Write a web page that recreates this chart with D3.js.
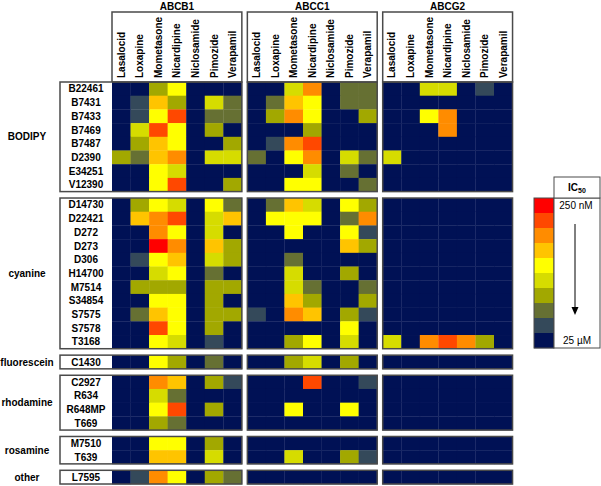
<!DOCTYPE html>
<html><head><meta charset="utf-8">
<script src="https://cdn.jsdelivr.net/npm/d3@7"></script>
<style>
body{margin:0;background:#fff;}
text{font-family:"Liberation Sans",Arial,sans-serif;}
</style></head>
<body><svg id="c" width="601" height="486"></svg>
<script>
// ---- data ----
const transporters = ["ABCB1","ABCC1","ABCG2"];
const drugs = ["Lasalocid","Loxapine","Mometasone","Nicardipine","Niclosamide","Pimozide","Verapamil"];
const groupNames = ["BODIPY","cyanine","fluorescein","rhodamine","rosamine","other"];
const dyesBODIPY = ["B22461","B7431","B7433","B7469","B7487","D2390","E34251","V12390"];
const dyesCyanine = ["D14730","D22421","D272","D273","D306","H14700","M7514","S34854","S7575","S7578","T3168"];
const dyesFluorescein = ["C1430"];
const dyesRhodamine = ["C2927","R634","R648MP","T669"];
const dyesRosamine = ["M7510","T639"];
const dyesOther = ["L7595"];
// IC50 level: 1 = 250 nM ... 10 = 25 µM
const legendTop = "250 nM";
const legendBottom = "25 µM";
const levelColors = ["#FF0000","#FF4800","#FF8C00","#FFC400","#FFFF00","#D6DC00","#A2A800","#667033","#34495A","#001155"];
// rows in dye order (all groups), columns in drug order
const levelsABCB1 = [
 [10,10,7,5,10,10,10],[10,9,4,7,10,6,8],[10,9,5,2,10,8,8],[10,6,2,5,10,7,10],
 [10,7,4,5,10,10,7],[7,8,4,3,10,6,6],[10,10,5,6,10,10,10],[10,10,5,2,10,10,7],
 [10,7,5,6,10,5,8],[10,4,3,2,10,6,4],[10,10,3,5,10,6,10],[10,10,1,3,10,4,7],
 [10,9,5,4,10,6,7],[10,10,6,5,10,8,10],[10,7,7,7,10,7,7],[10,10,5,5,10,7,10],
 [10,8,4,5,10,7,7],[10,10,2,5,10,7,10],[10,10,5,6,10,9,10],
 [10,10,5,7,10,8,10],
 [10,10,3,4,10,7,9],[10,10,6,8,10,10,10],[10,10,5,2,10,7,10],[10,10,7,8,10,10,10],
 [10,10,5,5,10,7,10],[10,10,4,4,10,6,10],
 [10,9,3,5,10,7,8]
];
const levelsABCC1 = [
 [10,10,6,3,10,8,8],[10,8,4,5,10,8,8],[10,7,3,5,10,10,7],[10,10,10,7,10,10,10],
 [10,9,3,2,10,10,10],[8,10,5,3,10,6,8],[10,10,10,6,10,8,10],[10,10,5,5,10,10,8],
 [10,8,4,6,10,5,7],[10,5,5,5,10,8,3],[10,10,5,10,10,5,9],[10,10,10,10,10,4,7],
 [10,10,8,10,10,10,10],[10,10,6,10,10,7,10],[10,10,6,8,10,10,8],[10,10,4,7,10,10,7],
 [9,10,3,4,10,7,9],[10,10,10,10,10,5,10],[10,10,7,5,10,6,10],
 [10,10,7,6,10,7,10],
 [10,10,10,2,10,10,9],[10,10,10,10,10,10,10],[10,10,5,10,10,5,10],[10,10,10,10,10,10,10],
 [10,10,10,10,10,10,10],[10,10,6,10,10,7,9],
 [10,10,10,10,10,10,10]
];
const levelsABCG2 = [
 [10,10,6,6,10,9,10],[10,10,10,10,10,10,10],[10,10,5,3,10,10,10],[10,10,10,3,10,10,10],
 [10,10,10,10,10,10,10],[6,10,10,10,10,10,10],[10,10,10,10,10,10,10],[10,10,10,10,10,10,10],
 [10,10,10,10,10,10,10],[10,10,10,10,10,10,10],[10,10,10,10,10,10,10],[10,10,10,10,10,10,10],
 [10,10,10,10,10,10,10],[10,10,10,10,10,10,10],[10,10,10,10,10,10,10],[10,10,10,10,10,10,10],
 [10,10,10,10,10,10,10],[10,10,10,10,10,10,10],[6,10,3,2,3,7,10],
 [10,10,10,10,10,10,10],
 [10,10,10,10,10,10,10],[10,10,10,10,10,10,10],[10,10,10,10,10,10,10],[10,10,10,10,10,10,10],
 [10,10,10,10,10,10,10],[10,10,10,10,10,10,10],
 [10,10,10,10,10,10,10]
];

// ---- build ----
(function(){
const groupDyes = [dyesBODIPY,dyesCyanine,dyesFluorescein,dyesRhodamine,dyesRosamine,dyesOther];
const levelsBy = {ABCB1:levelsABCB1, ABCC1:levelsABCC1, ABCG2:levelsABCG2};
const rows = [];
groupDyes.forEach((list,g)=>list.forEach(d=>rows.push({dye:d,group:g})));

const svg = d3.select("#c");
const rowH = 13.7, groupGap = 6.42, topY = 82;
const yRow = i => topY + i*rowH + rows[i].group*groupGap;
const colW = 18.55, panelGap = 5.5, x0 = 112;
const panelW = colW*drugs.length;
const xPanel = d3.scaleOrdinal().domain(transporters).range(transporters.map((t,i)=>x0 + i*(panelW+panelGap)));
const xCol = d3.scaleBand().domain(drugs).range([0,panelW]);
const color = d3.scaleOrdinal().domain(d3.range(1,11)).range(levelColors);
const frame = "#4a4a4a";

transporters.forEach(t=>{
  const g = svg.append("g").attr("transform",`translate(${xPanel(t)},0)`);
  rows.forEach((r,i)=>{
    levelsBy[t][i].forEach((v,j)=>{
      g.append("rect").attr("x",xCol(drugs[j])).attr("y",yRow(i))
       .attr("width",xCol.bandwidth()+0.3).attr("height",rowH+0.3)
       .attr("fill",color(v));
    });
  });
  g.append("rect").attr("x",0).attr("y",12).attr("width",panelW).attr("height",topY-12)
   .attr("fill","#fff").attr("stroke",frame).attr("stroke-width",1.5);
  g.append("text").attr("x",panelW/2).attr("y",10).attr("text-anchor","middle")
   .attr("font-size",10).attr("font-weight","bold").text(t);
  drugs.forEach(d=>{
    const cx = xCol(d)+xCol.bandwidth()/2;
    g.append("text").attr("transform",`translate(${cx},78) rotate(-90)`)
     .attr("dy","0.35em").attr("font-size",10).attr("font-weight","bold").text(d);
  });
});

let start = 0;
groupDyes.forEach((list,g)=>{
  const y1 = yRow(start), y2 = yRow(start)+list.length*rowH;
  svg.append("rect").attr("x",60).attr("y",y1).attr("width",x0-60).attr("height",y2-y1)
    .attr("fill","#fff");
  list.forEach((d,k)=>{
    svg.append("text").attr("x",86).attr("y",yRow(start+k)+rowH/2).attr("dy","0.36em")
      .attr("text-anchor","middle").attr("font-size",10).attr("font-weight","bold").text(d);
  });
  svg.append("rect").attr("x",60).attr("y",y1).attr("width",x0+panelW-60).attr("height",y2-y1)
    .attr("fill","none").attr("stroke",frame).attr("stroke-width",1.5);
  transporters.slice(1).forEach(t=>{
    svg.append("rect").attr("x",xPanel(t)).attr("y",y1).attr("width",panelW).attr("height",y2-y1)
      .attr("fill","none").attr("stroke",frame).attr("stroke-width",1.5);
  });
  svg.append("text").attr("x",27).attr("y",(y1+y2)/2).attr("dy","0.36em")
    .attr("text-anchor","middle").attr("font-size",10).attr("font-weight","bold").text(groupNames[g]);
  start += list.length;
});

const lx = 534, ly = 198, lh = 15, lw = 20;
const yLeg = d3.scaleBand().domain(d3.range(1,11)).range([ly, ly+lh*10]);
yLeg.domain().forEach(v=>{
  svg.append("rect").attr("x",lx).attr("y",yLeg(v)).attr("width",lw).attr("height",yLeg.bandwidth()+0.3)
    .attr("fill",color(v));
});
svg.append("rect").attr("x",lx).attr("y",ly).attr("width",lw).attr("height",lh*10)
  .attr("fill","none").attr("stroke",frame).attr("stroke-width",1);
svg.append("rect").attr("x",lx+lw).attr("y",ly).attr("width",600-lx-lw).attr("height",lh*10)
  .attr("fill","#fff").attr("stroke",frame).attr("stroke-width",1);
svg.append("rect").attr("x",lx+lw).attr("y",177).attr("width",600-lx-lw).attr("height",ly-177)
  .attr("fill","#fff").attr("stroke",frame).attr("stroke-width",1);
const ic = svg.append("text").attr("x",577).attr("y",191).attr("text-anchor","middle")
  .attr("font-size",10).attr("font-weight","bold");
ic.append("tspan").text("IC");
ic.append("tspan").attr("font-size",7).attr("dy",2).text("50");
svg.append("text").attr("x",576).attr("y",yLeg(1)+lh/2).attr("dy","0.36em").attr("text-anchor","middle")
  .attr("font-size",10).text(legendTop);
svg.append("text").attr("x",577).attr("y",yLeg(10)+lh/2).attr("dy","0.36em").attr("text-anchor","middle")
  .attr("font-size",10).text(legendBottom);
svg.append("line").attr("x1",575).attr("x2",575).attr("y1",224).attr("y2",309)
  .attr("stroke","#000").attr("stroke-width",1);
svg.append("path").attr("d","M571.5,307 L578.5,307 L575,315 Z").attr("fill","#000");
})();
</script></body></html>
